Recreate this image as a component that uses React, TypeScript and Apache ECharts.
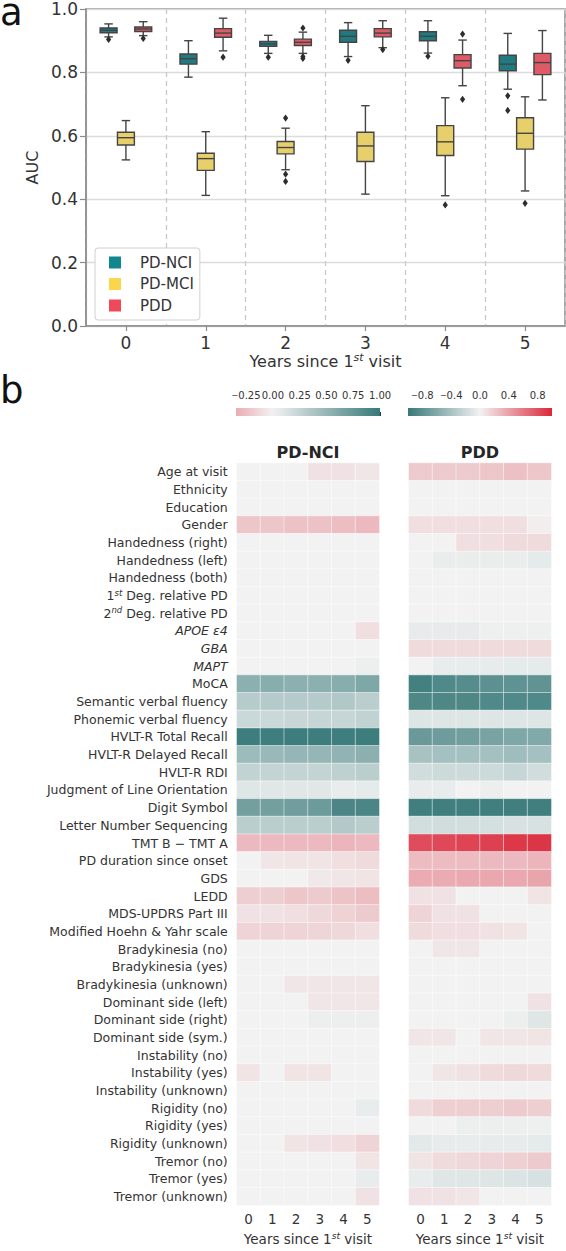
import React, { useEffect, useRef } from "react";
import * as echarts from "echarts";

// ---------- Panel a data ----------
const years = ["0", "1", "2", "3", "4", "5"];
const groups = ["PD-NCI", "PD-MCI", "PDD"];
const aucTicks = [0, 0.2, 0.4, 0.6, 0.8, 1.0];

// [lower whisker, Q1, median, Q3, upper whisker] per year
const pdNciBoxes = [
  [0.912, 0.925, 0.933, 0.940, 0.953],
  [0.785, 0.826, 0.843, 0.858, 0.900],
  [0.860, 0.882, 0.890, 0.898, 0.917],
  [0.850, 0.895, 0.914, 0.933, 0.957],
  [0.861, 0.900, 0.914, 0.928, 0.963],
  [0.747, 0.805, 0.826, 0.854, 0.923],
];
const pdMciBoxes = [
  [0.524, 0.571, 0.594, 0.611, 0.648],
  [0.412, 0.491, 0.528, 0.545, 0.613],
  [0.493, 0.543, 0.563, 0.582, 0.624],
  [0.416, 0.519, 0.568, 0.611, 0.695],
  [0.411, 0.538, 0.581, 0.632, 0.720],
  [0.426, 0.558, 0.608, 0.657, 0.723],
];
const pddBoxes = [
  [0.916, 0.929, 0.937, 0.943, 0.960],
  [0.868, 0.911, 0.924, 0.938, 0.971],
  [0.860, 0.885, 0.895, 0.905, 0.927],
  [0.878, 0.912, 0.924, 0.938, 0.963],
  [0.758, 0.814, 0.837, 0.856, 0.902],
  [0.713, 0.793, 0.831, 0.860, 0.932],
];
// [year index, value]
const pdNciOutliers = [[0, 0.904], [2, 0.848], [3, 0.838], [4, 0.851], [5, 0.726], [5, 0.680]];
const pdMciOutliers = [[2, 0.656], [2, 0.479], [2, 0.456], [4, 0.382], [5, 0.387]];
const pddOutliers = [[0, 0.907], [1, 0.848], [2, 0.940], [2, 0.850], [2, 0.844], [3, 0.872], [4, 0.921], [4, 0.715]];

// ---------- Panel b data ----------
const features = [
  "Age at visit", "Ethnicity", "Education", "Gender", "Handedness (right)", "Handedness (left)",
  "Handedness (both)", "1st Deg. relative PD", "2nd Deg. relative PD", "APOE ε4", "GBA", "MAPT",
  "MoCA", "Semantic verbal fluency", "Phonemic verbal fluency", "HVLT-R Total Recall",
  "HVLT-R Delayed Recall", "HVLT-R RDI", "Judgment of Line Orientation", "Digit Symbol",
  "Letter Number Sequencing", "TMT B − TMT A", "PD duration since onset", "GDS", "LEDD",
  "MDS-UPDRS Part III", "Modified Hoehn & Yahr scale", "Bradykinesia (no)", "Bradykinesia (yes)",
  "Bradykinesia (unknown)", "Dominant side (left)", "Dominant side (right)", "Dominant side (sym.)",
  "Instability (no)", "Instability (yes)", "Instability (unknown)", "Rigidity (no)", "Rigidity (yes)",
  "Rigidity (unknown)", "Tremor (no)", "Tremor (yes)", "Tremor (unknown)",
];

const pdNciValues = [
  [0, 0, 0, -0.08, -0.08, -0.06],
  [0, 0, 0, 0, 0, 0],
  [0, 0, 0, 0, 0, 0],
  [-0.22, -0.22, -0.24, -0.24, -0.26, -0.28],
  [0, 0, 0, 0, 0, 0],
  [0, 0, 0, 0, 0, 0],
  [0, 0, 0, 0, 0, 0],
  [0, 0, 0, 0, 0, 0],
  [0, 0, 0, 0, 0, 0],
  [0, 0, 0, 0, 0, -0.1],
  [0, 0, 0, 0, 0, 0],
  [0, 0, 0, 0, 0, 0.03],
  [0.55, 0.57, 0.55, 0.55, 0.57, 0.62],
  [0.32, 0.33, 0.33, 0.33, 0.35, 0.30],
  [0.22, 0.22, 0.23, 0.24, 0.24, 0.27],
  [0.97, 0.96, 0.97, 0.97, 0.96, 0.97],
  [0.46, 0.48, 0.50, 0.50, 0.52, 0.55],
  [0.26, 0.25, 0.25, 0.25, 0.28, 0.30],
  [0.10, 0.09, 0.09, 0.09, 0.05, 0.07],
  [0.68, 0.68, 0.70, 0.72, 0.90, 0.90],
  [0.30, 0.30, 0.30, 0.30, 0.34, 0.30],
  [-0.28, -0.28, -0.28, -0.28, -0.30, -0.28],
  [0, -0.06, -0.07, -0.07, -0.10, -0.12],
  [0, 0, 0, -0.05, -0.06, -0.07],
  [-0.18, -0.18, -0.22, -0.20, -0.23, -0.26],
  [-0.08, -0.08, -0.10, -0.13, -0.16, -0.20],
  [-0.15, -0.15, -0.15, -0.14, -0.13, -0.10],
  [0, 0, 0, 0, 0, 0],
  [0, 0, 0, 0, 0, 0],
  [0, 0, -0.06, -0.06, -0.06, -0.06],
  [0, 0, 0, -0.06, -0.06, -0.06],
  [0, 0, 0, 0.03, 0.03, 0.03],
  [0, 0, 0, 0, 0, 0],
  [0, 0, 0, 0, 0, 0],
  [-0.07, 0, -0.07, -0.07, 0, 0],
  [0, 0, 0, 0, 0, 0],
  [0, 0, 0, 0, 0, 0.05],
  [0, 0, 0, 0, 0, 0],
  [0, 0, -0.07, -0.08, -0.10, -0.15],
  [0, 0, 0, 0, 0, -0.07],
  [0, 0, 0, 0, 0, 0.05],
  [0, 0, 0, 0, 0, -0.08],
];

const pddValues = [
  [0.20, 0.20, 0.20, 0.22, 0.25, 0.22],
  [0, 0, 0, 0, 0, 0],
  [0, 0, 0, 0, 0, 0],
  [0.10, 0.10, 0.10, 0.10, 0.10, 0.02],
  [0, 0, 0.10, 0.10, 0.12, 0.12],
  [0, -0.04, -0.04, -0.04, -0.04, -0.07],
  [0, 0, 0, 0, 0, 0],
  [0, 0, 0, 0, 0, 0],
  [0, 0, 0, 0, 0, 0],
  [-0.06, -0.06, -0.06, -0.02, -0.02, -0.02],
  [0.12, 0.12, 0.12, 0.12, 0.12, 0.12],
  [0, -0.05, -0.05, -0.06, -0.07, -0.07],
  [-0.94, -0.87, -0.84, -0.80, -0.79, -0.78],
  [-0.88, -0.88, -0.88, -0.87, -0.87, -0.87],
  [-0.11, -0.11, -0.11, -0.11, -0.11, -0.11],
  [-0.73, -0.71, -0.69, -0.65, -0.62, -0.60],
  [-0.40, -0.42, -0.42, -0.42, -0.44, -0.42],
  [-0.18, -0.20, -0.20, -0.20, -0.24, -0.18],
  [-0.05, -0.05, 0, -0.03, 0, 0],
  [-0.95, -0.95, -0.95, -0.95, -0.95, -0.95],
  [-0.17, -0.18, -0.17, -0.16, -0.14, -0.14],
  [0.82, 0.84, 0.86, 0.88, 0.92, 0.93],
  [0.27, 0.27, 0.27, 0.28, 0.28, 0.30],
  [0.35, 0.35, 0.36, 0.37, 0.36, 0.38],
  [0.08, 0.08, 0, 0, 0, 0.07],
  [0.15, 0.08, 0.08, 0, 0, 0],
  [0.12, 0.10, 0.10, 0.08, 0.07, 0],
  [0, 0.06, 0.06, 0, 0, 0],
  [0, 0, 0, 0, 0, 0],
  [0, 0, 0, 0, 0, 0],
  [0, 0, 0, 0, 0, 0.08],
  [0, 0, 0, 0, -0.03, -0.10],
  [0.06, 0.06, 0, 0.06, 0.06, 0.07],
  [0, 0, 0, 0, 0, 0],
  [0, 0.06, 0.08, 0.12, 0.13, 0.12],
  [0, 0, 0, 0, 0, 0],
  [0.12, 0.17, 0.18, 0.18, 0.20, 0.18],
  [0, 0, -0.03, -0.03, -0.03, -0.02],
  [-0.08, -0.06, -0.05, -0.06, -0.06, -0.07],
  [0.07, 0.12, 0.13, 0.15, 0.17, 0.20],
  [-0.05, -0.10, -0.10, -0.11, -0.12, -0.14],
  [0.08, 0.08, 0.06, 0, 0, 0],
];

const nciBarRange = [-0.344, 1.0];
const pddBarRange = [-1.0, 1.0];
const nciBarTicks = [-0.25, 0, 0.25, 0.5, 0.75, 1.0];
const pddBarTicks = [-0.8, -0.4, 0, 0.4, 0.8];

// ---------- styles ----------
const FONT = "DejaVu Sans";
const TXT = "#333333";
const legendColors = ["#12868f", "#fbd64c", "#ef4858"];
const boxFill = ["#1f7a82", "#e7d06c", "#de5a66"];
const EDGE = "#444444";
const SPINE = "#8c8c8c";

const TEAL = [56, 121, 121];
const RED = [218, 40, 58];
const MID = [242, 242, 242];
function cmap(v: number, tealPositive: boolean): string {
  const target = (v >= 0) === tealPositive ? TEAL : RED;
  const a = Math.min(1, Math.abs(v));
  const c = MID.map((m, i) => Math.round(m + (target[i] - m) * a));
  return `rgb(${c[0]},${c[1]},${c[2]})`;
}
function stops(n: number, lo: number, hi: number, tealPositive: boolean) {
  const out: string[] = [];
  for (let i = 0; i <= n; i++) out.push(cmap(lo + ((hi - lo) * i) / n, tealPositive));
  return out;
}

function boxRenderer(h: number) {
  return (params: any, api: any) => {
    const cat = api.value(0);
    const band = api.size([1, 0])[0];
    const c = api.coord([cat, api.value(3)]);
    const cx = c[0] + (h - 1) * band * 0.217;
    const w = band * 0.212;
    const y = (i: number) => api.coord([cat, api.value(i)])[1];
    const yLo = y(1), yQ1 = y(2), yMed = y(3), yQ3 = y(4), yHi = y(5);
    const ls = { stroke: EDGE, lineWidth: 1.4, fill: null };
    return {
      type: "group",
      children: [
        { type: "line", shape: { x1: cx, y1: yQ1, x2: cx, y2: yLo }, style: ls },
        { type: "line", shape: { x1: cx, y1: yQ3, x2: cx, y2: yHi }, style: ls },
        { type: "line", shape: { x1: cx - w / 4, y1: yLo, x2: cx + w / 4, y2: yLo }, style: ls },
        { type: "line", shape: { x1: cx - w / 4, y1: yHi, x2: cx + w / 4, y2: yHi }, style: ls },
        { type: "rect", shape: { x: cx - w / 2, y: yQ3, width: w, height: yQ1 - yQ3 }, style: { fill: boxFill[h], stroke: EDGE, lineWidth: 1.4 } },
        { type: "line", shape: { x1: cx - w / 2, y1: yMed, x2: cx + w / 2, y2: yMed }, style: ls },
      ],
    };
  };
}
function outlierRenderer(h: number) {
  return (params: any, api: any) => {
    const cat = api.value(0);
    const band = api.size([1, 0])[0];
    const c = api.coord([cat, api.value(1)]);
    const cx = c[0] + (h - 1) * band * 0.217;
    const cy = c[1];
    return {
      type: "polygon",
      shape: { points: [[cx, cy - 3.6], [cx + 2.6, cy], [cx, cy + 3.6], [cx - 2.6, cy]] },
      style: { fill: "#2d2d2d" },
    };
  };
}
function barRenderer(tealPositive: boolean) {
  return (params: any, api: any) => {
    const lo = api.value(0), hi = api.value(1);
    const p0 = api.coord([lo, 0]);
    const p1 = api.coord([hi, 1]);
    const cols = stops(24, lo, hi, tealPositive);
    return {
      type: "rect",
      shape: { x: p0[0], y: p1[1], width: p1[0] - p0[0], height: p0[1] - p1[1] },
      style: {
        fill: new echarts.graphic.LinearGradient(0, 0, 1, 0, cols.map((color, i) => ({ offset: i / (cols.length - 1), color }))),
      },
    };
  };
}

function featureLabel(v: string): string {
  if (v === "1st Deg. relative PD") return "{n|1}{sup|st}{n| Deg. relative PD}";
  if (v === "2nd Deg. relative PD") return "{n|2}{sup|nd}{n| Deg. relative PD}";
  if (v === "APOE ε4" || v === "GBA" || v === "MAPT") return `{it|${v}}`;
  return `{n|${v}}`;
}
const yearsTitle = (fs: number) => ({
  name: "{t|Years since 1}{s|st}{t| visit}",
  nameTextStyle: {
    rich: {
      t: { fontSize: fs, color: TXT, fontFamily: FONT, lineHeight: fs + 2 },
      s: { fontSize: fs * 0.68, color: TXT, fontFamily: FONT, fontStyle: "italic", verticalAlign: "top", lineHeight: fs * 0.7 },
    },
  },
});
const barLabelRich = {
  m: { fontSize: 8, color: TXT, fontFamily: FONT },
  d: { fontSize: 10, color: TXT, fontFamily: FONT },
};
const barLabel = (digits: number) => (v: number) => {
  const s = Math.abs(v).toFixed(digits);
  return v < 0 ? `{m|−}{d|${s}}` : `{d|${s}}`;
};

export default function App() {
  const ref = useRef<HTMLDivElement>(null);
  useEffect(() => {
    if (!ref.current) return;
    const chart = echarts.init(ref.current, undefined, { renderer: "svg" });
    const boxSets = [pdNciBoxes, pdMciBoxes, pddBoxes];
    const outSets = [pdNciOutliers, pdMciOutliers, pddOutliers];
    const heatData = (vals: number[][]) => {
      const d: number[][] = [];
      vals.forEach((row, r) => row.forEach((v, c) => d.push([c, r, v])));
      return d;
    };

    const series: any[] = [];
    groups.forEach((g, h) => {
      series.push({
        type: "custom", name: g, xAxisIndex: 0, yAxisIndex: 0,
        itemStyle: { color: legendColors[h] },
        renderItem: boxRenderer(h),
        encode: { x: 0, y: [1, 2, 3, 4, 5] },
        data: boxSets[h].map((b, i) => [i, ...b]),
        z: 3,
      });
    });
    groups.forEach((g, h) => {
      series.push({
        type: "custom", name: g + " outliers", xAxisIndex: 0, yAxisIndex: 0,
        renderItem: outlierRenderer(h),
        encode: { x: 0, y: 1 },
        data: outSets[h],
        z: 4,
      });
    });
    series.push({
      type: "custom", xAxisIndex: 1, yAxisIndex: 1, renderItem: barRenderer(true),
      encode: { x: [0, 1] }, data: [nciBarRange], silent: true,
    });
    series.push({
      type: "custom", xAxisIndex: 2, yAxisIndex: 2, renderItem: barRenderer(false),
      encode: { x: [0, 1] }, data: [pddBarRange], silent: true,
    });
    const nciIdx = series.length;
    series.push({
      type: "heatmap", xAxisIndex: 3, yAxisIndex: 3, data: heatData(pdNciValues),
      itemStyle: { borderColor: "rgba(255,255,255,0.6)", borderWidth: 0.8 },
      emphasis: { disabled: true }, progressive: 0,
    });
    const pddIdx = series.length;
    series.push({
      type: "heatmap", xAxisIndex: 4, yAxisIndex: 4, data: heatData(pddValues),
      itemStyle: { borderColor: "rgba(255,255,255,0.6)", borderWidth: 0.8 },
      emphasis: { disabled: true }, progressive: 0,
    });

    const heatX = (gi: number) => ({
      gridIndex: gi, type: "category", data: years,
      axisLine: { show: false }, axisTick: { show: false },
      axisLabel: { fontSize: 13.5, color: TXT, margin: 7 },
      nameLocation: "middle", nameGap: 22,
      ...yearsTitle(13.5),
    });

    const option: any = {
      animation: false,
      textStyle: { fontFamily: FONT },
      grid: [
        { left: 86, top: 9, width: 479, height: 317, show: true, borderColor: SPINE, borderWidth: 1.5, backgroundColor: "#fff" },
        { left: 236, top: 408, width: 144, height: 8 },
        { left: 408, top: 408, width: 144, height: 8 },
        { left: 236.7, top: 463, width: 142.6, height: 752 },
        { left: 408.7, top: 463, width: 142.6, height: 752 },
      ],
      xAxis: [
        {
          gridIndex: 0, type: "category", data: years, boundaryGap: true,
          axisLine: { lineStyle: { color: SPINE, width: 1.5 } },
          axisTick: { show: true, alignWithLabel: true, length: 5, lineStyle: { color: SPINE, width: 1.2 } },
          axisLabel: { fontSize: 17, color: TXT, margin: 8 },
          splitLine: { show: true, lineStyle: { type: [5, 4], color: "#c9c9c9", width: 1.3 } },
          nameLocation: "middle", nameGap: 26,
          ...yearsTitle(16),
        },
        {
          gridIndex: 1, type: "value", min: nciBarRange[0], max: nciBarRange[1], position: "top",
          axisLine: { show: false }, splitLine: { show: false },
          axisTick: { show: true, customValues: nciBarTicks, length: 4, lineStyle: { color: TXT, width: 1 } },
          axisLabel: {
            customValues: nciBarTicks, color: TXT, margin: 8,
            showMinLabel: true, showMaxLabel: true, hideOverlap: false,
            formatter: barLabel(2), rich: barLabelRich,
          },
        },
        {
          gridIndex: 2, type: "value", min: pddBarRange[0], max: pddBarRange[1], position: "top",
          axisLine: { show: false }, splitLine: { show: false },
          axisTick: { show: true, customValues: pddBarTicks, length: 4, lineStyle: { color: TXT, width: 1 } },
          axisLabel: {
            customValues: pddBarTicks, color: TXT, margin: 8,
            showMinLabel: true, showMaxLabel: true, hideOverlap: false,
            formatter: barLabel(1), rich: barLabelRich,
          },
        },
        heatX(3),
        heatX(4),
      ],
      yAxis: [
        {
          gridIndex: 0, type: "value", min: 0, max: 1, interval: 0.2,
          axisLine: { show: true, lineStyle: { color: SPINE, width: 1.5 } },
          axisTick: { show: true, length: 6, lineStyle: { color: SPINE, width: 1.2 } },
          axisLabel: { fontSize: 17, color: TXT, margin: 8, formatter: (v: number) => aucTicks.includes(Math.round(v * 10) / 10) ? v.toFixed(1) : "" },
          splitLine: { show: true, lineStyle: { color: "#dcdcdc", width: 1.4 } },
          name: "AUC", nameLocation: "middle", nameGap: 30,
          nameTextStyle: { fontSize: 16, color: TXT },
        },
        { gridIndex: 1, type: "value", min: 0, max: 1, show: false },
        { gridIndex: 2, type: "value", min: 0, max: 1, show: false },
        {
          gridIndex: 3, type: "category", data: features, inverse: true,
          axisLine: { show: false }, axisTick: { show: false },
          axisLabel: {
            margin: 9, color: TXT, fontSize: 12.5, interval: 0,
            formatter: featureLabel,
            rich: {
              n: { fontSize: 12.5, color: TXT, fontFamily: FONT, lineHeight: 15 },
              it: { fontSize: 12.5, color: TXT, fontFamily: FONT, fontStyle: "italic", lineHeight: 15 },
              sup: { fontSize: 8.5, color: TXT, fontFamily: FONT, fontStyle: "italic", verticalAlign: "top", lineHeight: 9 },
            },
          },
        },
        {
          gridIndex: 4, type: "category", data: features, inverse: true,
          axisLine: { show: false }, axisTick: { show: false }, axisLabel: { show: false },
        },
      ],
      visualMap: [
        { type: "continuous", show: false, seriesIndex: nciIdx, dimension: 2, min: -1, max: 1, inRange: { color: stops(40, -1, 1, true) } },
        { type: "continuous", show: false, seriesIndex: pddIdx, dimension: 2, min: -1, max: 1, inRange: { color: stops(40, -1, 1, false) } },
      ],
      legend: {
        data: groups, left: 95, top: 248, orient: "vertical", icon: "rect",
        itemWidth: 12, itemHeight: 12, itemGap: 6.5,
        textStyle: { fontSize: 15, color: TXT, padding: [0, 0, 0, 14] },
        borderColor: "#d0d0d0", borderWidth: 1, borderRadius: 3,
        padding: [7, 6, 7, 14], backgroundColor: "#ffffff",
        selectedMode: false,
      },
      graphic: [
        { type: "text", left: 0, top: -6, style: { text: "a", fontSize: 37, fontFamily: FONT, fill: "#111" } },
        { type: "text", left: 0, top: 372, style: { text: "b", fontSize: 37, fontFamily: FONT, fill: "#111" } },
        { type: "text", x: 308, y: 452, style: { text: "PD-NCI", fontSize: 16, fontWeight: "bold", fontFamily: FONT, fill: "#262626", align: "center", verticalAlign: "middle" } },
        { type: "text", x: 480, y: 452, style: { text: "PDD", fontSize: 16, fontWeight: "bold", fontFamily: FONT, fill: "#262626", align: "center", verticalAlign: "middle" } },
      ],
      series,
    };
    chart.setOption(option);
    return () => chart.dispose();
  }, []);
  return <div ref={ref} style={{ position: "absolute", left: 0, top: 0, width: 566, height: 1251, background: "#fff" }} />;
}
